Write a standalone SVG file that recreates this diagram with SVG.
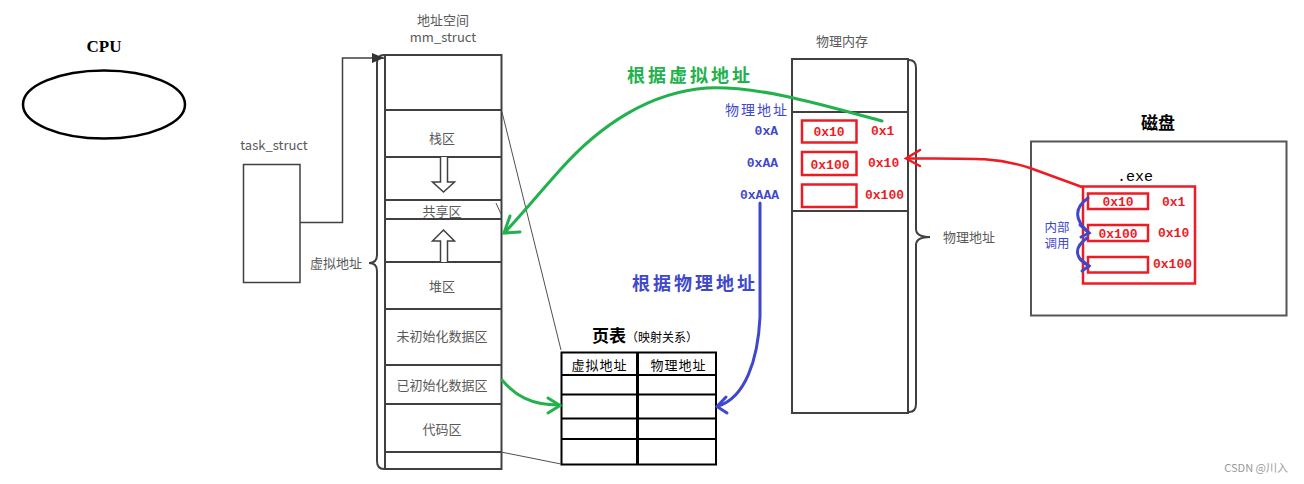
<svg xmlns="http://www.w3.org/2000/svg" width="1304" height="484" viewBox="0 0 1304 484">
<style>
.g{font-family:"Noto Sans CJK SC","Noto Sans",sans-serif;fill:#595959;font-size:13px;text-anchor:middle}
.k{font-family:"Noto Sans CJK SC",sans-serif;fill:#000;text-anchor:middle}
.m{font-family:"Liberation Mono",monospace;font-weight:bold;font-size:13px}
.red{fill:#ed1c24}
.blue{fill:#3f48cc}
.box{fill:#fff;stroke:#404040;stroke-width:2}
.ln{stroke:#404040;stroke-width:2;fill:none}
.thin{stroke:#505050;stroke-width:1;fill:none}
.rb{fill:none;stroke:#ed1c24;stroke-width:2.5}
.tb{stroke:#000;stroke-width:2;fill:none}
.hol{fill:#fff;stroke:#404040;stroke-width:1.5}
.gr{stroke:#22b14c;stroke-width:3;fill:none;stroke-linecap:round}
.bl{stroke:#3f48cc;stroke-width:3;fill:none;stroke-linecap:round}
.rd{stroke:#ed1c24;stroke-width:2.5;fill:none;stroke-linecap:round}
</style>
<defs>
<marker id="tri" markerWidth="12" markerHeight="10" refX="12" refY="5" orient="auto" markerUnits="userSpaceOnUse">
<path d="M0,0 L12,5 L0,10 Z" fill="#333"/>
</marker>
</defs>
<rect width="1304" height="484" fill="#fff"/>

<g id="cpu">
<text x="104" y="52" font-family="Liberation Serif" font-weight="bold" font-size="17" text-anchor="middle" fill="#000">CPU</text>
<ellipse cx="104" cy="104.5" rx="81" ry="34" fill="none" stroke="#000" stroke-width="2.5"/>
</g>

<g id="task_struct">
<text x="274" y="150" class="g" fill="#555">task_struct</text>
<rect x="243.5" y="164.5" width="56.5" height="118" fill="#fff" stroke="#404040" stroke-width="1.5"/>
</g>

<g id="mm_struct">
<text x="443" y="25" class="g" font-size="12">地址空间</text>
<text x="443" y="42" class="g" font-size="12">mm_struct</text>
<rect x="385" y="55" width="116.5" height="414" class="box"/>
<path class="ln" d="M385,110 H501 M385,157 H501 M385,200 H501 M385,219 H501 M385,262 H501 M385,309 H501 M385,365 H501 M385,404 H501 M385,452 H501"/>
<text x="442" y="143" class="g">栈区</text>
<path class="hol" d="M440.5,157 V182 H432.5 L443.5,192 L454.5,182 H447.5 V157"/>
<text x="442" y="216" class="g">共享区</text>
<path class="hol" d="M440.5,262 V241 H432.5 L443.5,230 L454.5,241 H447.5 V262"/>
<text x="442" y="291" class="g">堆区</text>
<text x="442" y="341" class="g">未初始化数据区</text>
<text x="442" y="390" class="g">已初始化数据区</text>
<text x="442" y="434" class="g">代码区</text>
<path class="ln" d="M384,55 Q377,55 377,63 L377,255 Q377,263 369,263 Q377,263 377,271 L377,461 Q377,469 384,469"/>
<text x="362" y="268" class="g" style="text-anchor:end">虚拟地址</text>
</g>

<g id="page_table">
<text x="592" y="342" font-family="Noto Sans CJK SC,sans-serif" fill="#000" font-size="17" font-weight="bold">页表<tspan font-size="12" font-weight="normal">（映射关系）</tspan></text>
<rect x="561.5" y="352.5" width="154.5" height="112" class="tb"/>
<path class="tb" d="M561.5,375 H716 M561.5,394.5 H716 M561.5,418.5 H716 M561.5,439 H716"/>
<path d="M637.5,352.5 V464.5" stroke="#000" stroke-width="3"/>
<text x="599.5" y="369.5" class="k" font-size="13" letter-spacing="1">虚拟地址</text>
<text x="678.5" y="369.5" class="k" font-size="13" letter-spacing="1">物理地址</text>
</g>

<g id="physical_memory">
<text x="842" y="46" class="g" font-size="12">物理内存</text>
<rect x="792" y="59" width="116" height="354" class="box"/>
<path class="ln" d="M792,112 H908 M792,211 H908"/>
<rect x="802" y="120.5" width="54.5" height="22" class="rb"/>
<rect x="802" y="152" width="54.5" height="23" class="rb"/>
<rect x="802" y="184.5" width="54.5" height="22.5" class="rb"/>
<text x="829" y="136" class="m red" text-anchor="middle">0x10</text>
<text x="830" y="168.5" class="m red" text-anchor="middle">0x100</text>
<text x="871" y="135" class="m red">0x1</text>
<text x="868" y="167" class="m red">0x10</text>
<text x="865" y="199" class="m red">0x100</text>
<path class="ln" d="M909,60 Q916,60 916,68 L916,229 Q916,237 930,237 Q916,237 916,245 L916,404 Q916,412 909,412"/>
<text x="969" y="242" class="g" font-size="12">物理地址</text>
<text x="725" y="115" font-family="Noto Sans CJK SC,sans-serif" font-size="14" letter-spacing="2" class="blue">物理地址</text>
<text x="778" y="135" class="m blue" text-anchor="end">0xA</text>
<text x="778" y="166.5" class="m blue" text-anchor="end">0xAA</text>
<text x="779" y="198.5" class="m blue" text-anchor="end">0xAAA</text>
</g>

<g id="disk">
<text x="1158" y="129" class="k" font-size="17" font-weight="bold">磁盘</text>
<rect x="1031" y="141.5" width="255.5" height="174" fill="#fff" stroke="#555" stroke-width="2"/>
<text x="1135" y="181" font-family="Liberation Mono,monospace" font-size="15" text-anchor="middle" fill="#000">.exe</text>
<rect x="1083" y="186.5" width="112" height="97" class="rb" stroke-width="3"/>
<rect x="1088" y="193.5" width="60" height="15.5" class="rb"/>
<rect x="1088" y="225" width="60" height="16" class="rb"/>
<rect x="1088" y="257" width="60" height="15.5" class="rb"/>
<text x="1118" y="206" class="m red" text-anchor="middle">0x10</text>
<text x="1118" y="238" class="m red" text-anchor="middle">0x100</text>
<text x="1162" y="205.5" class="m red">0x1</text>
<text x="1158" y="237" class="m red">0x10</text>
<text x="1153" y="268" class="m red">0x100</text>
<text x="1057" y="231.5" font-family="Noto Sans CJK SC,sans-serif" font-size="12.5" text-anchor="middle" class="blue">内部</text>
<text x="1057" y="248" font-family="Noto Sans CJK SC,sans-serif" font-size="12.5" text-anchor="middle" class="blue">调用</text>
</g>

<g id="labels">
<text x="627" y="82" font-family="Noto Sans CJK SC,sans-serif" font-size="18" font-weight="bold" fill="#22b14c" textLength="123" lengthAdjust="spacing">根据虚拟地址</text>
<text x="632" y="290" font-family="Noto Sans CJK SC,sans-serif" font-size="18" font-weight="bold" class="blue" textLength="123" lengthAdjust="spacing">根据物理地址</text>
<text x="1288" y="472" font-family="Noto Sans CJK SC,sans-serif" font-size="11" fill="#999" text-anchor="end">CSDN @川入</text>
</g>

<g id="connectors">
<path d="M300,222.5 H342.5 V58 H384" fill="none" stroke="#404040" stroke-width="1.5" marker-end="url(#tri)"/>
<path class="thin" d="M502,112 L561,350 M501,452 L561,464 M496,203 L501,214"/>
<path class="gr" d="M882,121 C820,104 760,86 707,88 C650,92 600,125 560,170 C535,198 515,222 505,232"/>
<path class="gr" d="M510,216 L504,233 L520,232"/>
<path class="gr" d="M502,380 C515,395 530,405 559,405"/>
<path class="gr" d="M548,398 L560,405.5 L548,413"/>
<path class="bl" d="M760,203 L760,317 C758,360 745,398 718,406"/>
<path class="bl" d="M726,397 L717,406.5 L727,413"/>
<path class="rd" d="M1082,187 L1030,168 C1000,158 980,158 908,158.5"/>
<path class="rd" d="M920,150 L906,158.5 L920,166"/>
<path class="bl" d="M1088,198 C1074,208 1074,220 1089,233"/>
<path class="bl" d="M1080,225 L1089,233 L1081,237"/>
<path class="bl" d="M1087,238 C1074,247 1074,258 1089,266"/>
<path class="bl" d="M1080,259 L1089,266 L1082,271"/>
</g>
</svg>
